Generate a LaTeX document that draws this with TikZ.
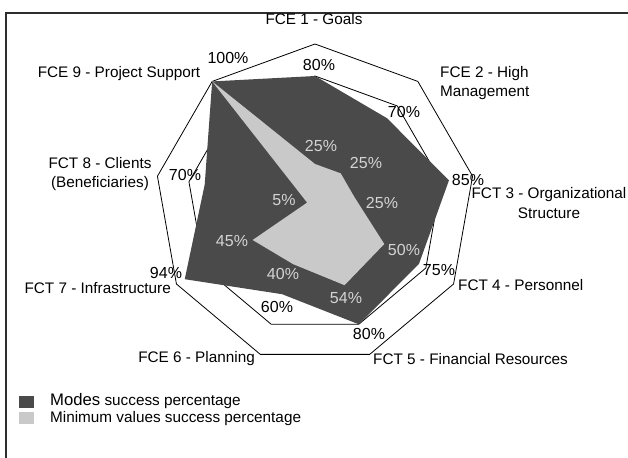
\documentclass[tikz,border=0pt]{standalone}
\usepackage{fontspec}
\setmainfont{Liberation Sans}
\definecolor{darkfill}{HTML}{4A4A4A}
\definecolor{lightfill}{HTML}{C9C9C9}
\definecolor{lightlab}{HTML}{D4D4D4}
\definecolor{framecol}{HTML}{2E2E2E}
\begin{document}
\begin{tikzpicture}[x=1pt,y=1pt,
  axlab/.style={font=\fontsize{15.3}{19.5}\selectfont, inner sep=0pt, align=center},
  val/.style={font=\fontsize{16}{18}\selectfont, inner sep=0pt},
  minval/.style={val, text=lightlab},
  gridline/.style={draw=black, line width=0.8pt, line join=miter},
  legkey/.style={minimum width=15pt, minimum height=12pt, inner sep=0pt, draw=none}]
\useasboundingbox (0,0) rectangle (628,-457);
\draw[line width=2pt, draw=framecol] (6,-13) rectangle (660,-490);
\begin{scope}[shift={(315,-204)}]
  \foreach \i/\a in {1/90,2/50,3/10,4/-30,5/-70,6/-110,7/-150,8/170,9/130} {
    \coordinate (o\i) at (\a:160);
    \coordinate (g\i) at (\a:128);
  }
  % modes
  \coordinate (d1) at (90:128);
  \coordinate (d2) at (50:112);
  \coordinate (d3) at (10:136);
  \coordinate (d4) at (-30:120);
  \coordinate (d5) at (-70:128);
  \coordinate (d6) at (-110:96);
  \coordinate (d7) at (-150:150.4);
  \coordinate (d8) at (170:112);
  \coordinate (d9) at (130:160);
  % minimum values
  \coordinate (m1) at (90:40);
  \coordinate (m2) at (50:40);
  \coordinate (m3) at (10:40);
  \coordinate (m4) at (-30:80);
  \coordinate (m5) at (-70:86.4);
  \coordinate (m6) at (-110:64);
  \coordinate (m7) at (-150:72);
  \coordinate (m8) at (170:8);
  \coordinate (m9) at (130:160);
\end{scope}
\draw[gridline] (o1) -- (o2) -- (o3) -- (o4) -- (o5) -- (o6) -- (o7) -- (o8) -- (o9) -- cycle;
\draw[gridline] (g1) -- (g2) -- (g3) -- (g4) -- (g5) -- (g6) -- (g7) -- (g8) -- (g9) -- cycle;
\fill[darkfill] (d1) -- (d2) -- (d3) -- (d4) -- (d5) -- (d6) -- (d7) -- (d8) -- (d9) -- cycle;
\fill[lightfill] (m1) -- (m2) -- (m3) -- (m4) -- (m5) -- (m6) -- (m7) -- (m8) -- (m9) -- cycle;

% axis labels
\node[axlab] (a1) at (314,-19) {FCE 1 - Goals};
\node[axlab, align=left, anchor=west] (a2) at (440,-83) {FCE 2 - High\\Management};
\node[axlab] (a3) at (549,-203) {FCT 3 - Organizational\\Structure};
\node[axlab, anchor=west] (a4) at (458,-285) {FCT 4 - Personnel};
\node[axlab, anchor=west] (a5) at (373,-359) {FCT 5 - Financial Resources};
\node[axlab, anchor=east] (a6) at (255,-359) {FCE 6 - Planning};
\node[axlab, anchor=east] (a7) at (171,-288) {FCT 7 - Infrastructure};
\node[axlab] (a8) at (100,-174) {FCT 8 - Clients\\(Beneficiaries)};
\node[axlab] (a9) at (119,-74) {FCE 9 - Project Support};

% modes values
\node[val] (v9) at (228,-58) {100\%};
\node[val] (v1) at (319,-65) {80\%};
\node[val] (v2) at (404,-112) {70\%};
\node[val] (v3) at (468,-180) {85\%};
\node[val] (v4) at (439,-270) {75\%};
\node[val] (v5) at (369,-334) {80\%};
\node[val] (v6) at (277,-307) {60\%};
\node[val] (v7) at (166,-273) {94\%};
\node[val] (v8) at (185,-175) {70\%};

% minimum values
\node[minval] (n1) at (321,-146) {25\%};
\node[minval] (n2) at (366,-163) {25\%};
\node[minval] (n3) at (382,-203) {25\%};
\node[minval] (n4) at (404,-250) {50\%};
\node[minval] (n5) at (346,-298) {54\%};
\node[minval] (n6) at (283,-274) {40\%};
\node[minval] (n7) at (232,-241) {45\%};
\node[minval] (n8) at (284,-200) {5\%};

% legend
\node[legkey, fill=darkfill] (k1) at (26.5,-401.5) {};
\node[legkey, fill=lightfill] (k2) at (26.5,-417.5) {};
\node[inner sep=0pt, anchor=west, font=\fontsize{15.3}{18}\selectfont] (t1) at (50,-401.5) {{\fontsize{16.7}{18}\selectfont Modes} success percentage};
\node[inner sep=0pt, anchor=west, font=\fontsize{15.3}{18}\selectfont] (t2) at (50,-419) {Minimum values success percentage};
\end{tikzpicture}
\end{document}
